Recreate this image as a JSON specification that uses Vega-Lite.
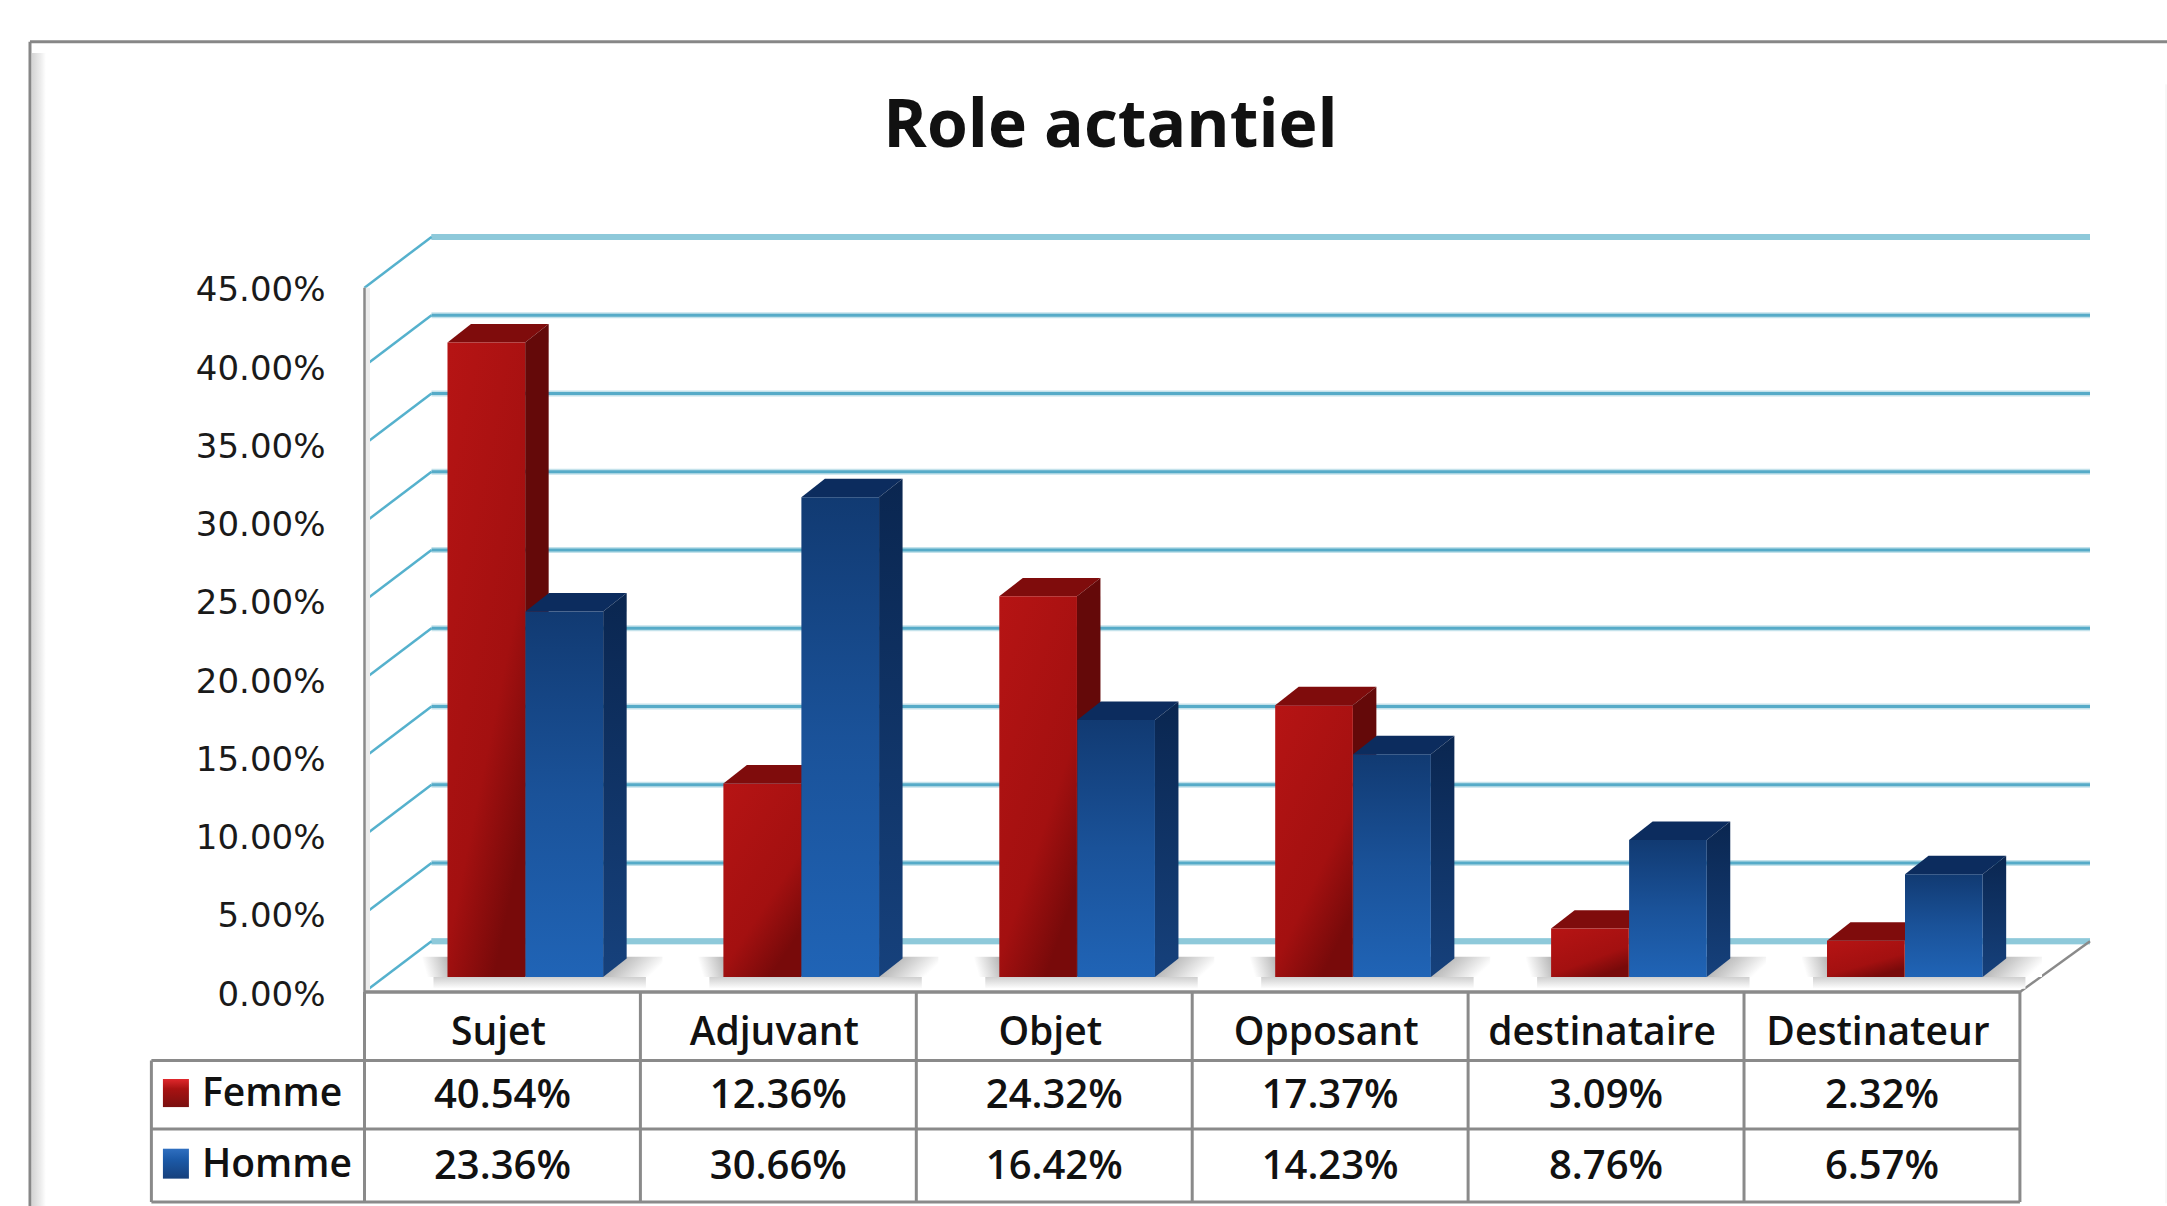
{
"$schema":"https://vega.github.io/schema/vega-lite/v6.json",
"width":2167,"height":1206,"padding":0,
"autosize":{"type":"fit","contains":"padding"},
"background":"white",
"config":{"view":{"stroke":null}},
"title":{"text":"Role actantiel","font":"Open Sans","fontSize":66,"fontWeight":700,"color":"#111","anchor":"middle","offset":-161,"dx":27},
"data":{"values":[{}]},
"datasets":{
"barres":[
{"role":"Sujet","col":0,"genre":"Femme","valeur":0.4054},
{"role":"Adjuvant","col":1,"genre":"Femme","valeur":0.1236},
{"role":"Objet","col":2,"genre":"Femme","valeur":0.2432},
{"role":"Opposant","col":3,"genre":"Femme","valeur":0.1737},
{"role":"destinataire","col":4,"genre":"Femme","valeur":0.0309},
{"role":"Destinateur","col":5,"genre":"Femme","valeur":0.0232},
{"role":"Sujet","col":0,"genre":"Homme","valeur":0.2336},
{"role":"Adjuvant","col":1,"genre":"Homme","valeur":0.3066},
{"role":"Objet","col":2,"genre":"Homme","valeur":0.1642},
{"role":"Opposant","col":3,"genre":"Homme","valeur":0.1423},
{"role":"destinataire","col":4,"genre":"Homme","valeur":0.0876},
{"role":"Destinateur","col":5,"genre":"Homme","valeur":0.0657}
],
"graduations":[{"v":0},{"v":0.05},{"v":0.1},{"v":0.15},{"v":0.2},{"v":0.25},{"v":0.3},{"v":0.35},{"v":0.4},{"v":0.45}],
"colonnes":[{"c":0},{"c":1},{"c":2},{"c":3},{"c":4},{"c":5},{"c":6}]
},
"resolve":{"scale":{"y":"independent"}},
"layer":[
{"layer":[
{"mark":{"type":"rect","color":{"gradient":"linear","x1":0,"y1":0,"x2":1,"y2":0,"stops":[{"offset":0,"color":"#d4d4d4"},{"offset":0.6,"color":"#ececec"},{"offset":1,"color":"#ffffff"}]}},
 "encoding":{"x":{"datum":-1.205,"type":"quantitative","scale":{"domain":[-1.3211,6.5331],"nice":false,"zero":false},"axis":null},"x2":{"datum":-1.1546},
 "y":{"datum":0.6,"type":"quantitative","scale":{"domain":[-0.13674,0.63387],"nice":false,"zero":false}},"y2":{"datum":-0.13674}}},
{"mark":{"type":"rule","color":"#878787","strokeWidth":3,"clip":true},"encoding":{"x":{"datum":-1.2124},"x2":{"datum":6.5331},"y":{"datum":0.6072}}},
{"mark":{"type":"rule","color":"#878787","strokeWidth":3,"clip":true},"encoding":{"x":{"datum":-1.2124},"y":{"datum":0.6072},"y2":{"datum":-0.13674}}},
{"mark":{"type":"rule","color":"#f0f0f0","strokeWidth":1},"encoding":{"x":{"datum":6.5295},"y":{"datum":0.58},"y2":{"datum":-0.135}}},
{"data":{"name":"graduations"},"transform":[{"calculate":"datum.v+0.0325","as":"vf"}],"layer":[
 {"mark":{"type":"rule","color":"#c4e2eb","strokeWidth":6},"encoding":{"x":{"datum":0.2428},"x2":{"datum":6.254},"y":{"field":"vf","type":"quantitative"}}},
 {"mark":{"type":"rule","color":"#56abc8","strokeWidth":3},"encoding":{"x":{"datum":0.2428},"x2":{"datum":6.254},"y":{"field":"vf","type":"quantitative"}}},
 {"transform":[{"filter":"datum.v==0||datum.v==0.45"}],"mark":{"type":"rule","color":"#8ec9da","strokeWidth":6},"encoding":{"x":{"datum":0.2428},"x2":{"datum":6.254},"y":{"field":"vf","type":"quantitative"}}},
 {"mark":{"type":"rule","color":"#55b1cd","strokeWidth":2.5},"encoding":{"x":{"datum":0},"x2":{"datum":0.2428},"y":{"field":"v","type":"quantitative"},"y2":{"field":"vf"}}},
 {"mark":{"type":"text","opacity":0},"encoding":{"x":{"datum":0},"y":{"field":"v","type":"quantitative","axis":{"values":[0,0.05,0.1,0.15,0.2,0.25,0.3,0.35,0.4,0.45],"format":".2%","title":null,"orient":"left","offset":-325,"grid":false,"domain":false,"ticks":false,"labelPadding":0,"labelFont":"DejaVu Sans","labelFontSize":34,"labelColor":"#1a1a1a","labelOffset":3,"labelBaseline":"middle"}},"text":{"value":""}}}
]},
{"mark":{"type":"rule","color":"#ececec","strokeWidth":5},"encoding":{"x":{"datum":0.011},"y":{"datum":0},"y2":{"datum":0.45}}},
{"mark":{"type":"rule","color":"#8a8a8a","strokeWidth":2.5},"encoding":{"x":{"datum":0},"y":{"datum":0},"y2":{"datum":0.45}}},
{"mark":{"type":"rule","color":"#8a8a8a","strokeWidth":2.5},"encoding":{"x":{"datum":6},"x2":{"datum":6.254},"y":{"datum":0},"y2":{"datum":0.0325}}},
{"data":{"name":"barres"},"transform":[
 {"filter":"datum.genre=='Femme'"},
 {"calculate":"datum.col+0.25","as":"a"},{"calculate":"datum.col+1.02","as":"b"},
 {"calculate":"datum.col+0.86","as":"c"},{"calculate":"datum.col+1.08","as":"d"},
 {"calculate":"datum.col+0.21","as":"e"},{"calculate":"datum.col+0.32","as":"f"}
],"layer":[
 {"mark":{"type":"rect","color":{"gradient":"linear","x1":0,"y1":0,"x2":0,"y2":1,"stops":[{"offset":0,"color":"#cfcfcf"},{"offset":1,"color":"#ffffff"}]}},"encoding":{"x":{"field":"a","type":"quantitative"},"x2":{"field":"b"},"y":{"datum":0.0096},"y2":{"datum":0.002}}},
 {"mark":{"type":"rect","color":{"gradient":"linear","x1":0,"y1":0,"x2":1,"y2":0.35,"stops":[{"offset":0,"color":"#9a9a9a"},{"offset":0.55,"color":"#cfcfcf"},{"offset":1,"color":"#ffffff"}]}},"encoding":{"x":{"field":"c","type":"quantitative"},"x2":{"field":"d"},"y":{"datum":0.0096},"y2":{"datum":0.0225}}},
 {"mark":{"type":"rect","color":{"gradient":"linear","x1":0,"y1":0.2,"x2":1,"y2":0,"stops":[{"offset":0,"color":"#ffffff"},{"offset":1,"color":"#a8a8a8"}]}},"encoding":{"x":{"field":"e","type":"quantitative"},"x2":{"field":"f"},"y":{"datum":0.0096},"y2":{"datum":0.0225}}}
]},
{"data":{"name":"barres"},"transform":[
 {"calculate":"datum.col+(datum.genre=='Femme'?0.3008:0.5835)","as":"x0"},
 {"calculate":"datum.x0+0.2815","as":"x1"},
 {"calculate":"datum.valeur+0.0096","as":"sommet"},
 {"calculate":"[0,1]","as":"t"},{"flatten":["t"]},
 {"calculate":"datum.x0+datum.t*0.0852","as":"hx0"},
 {"calculate":"datum.x1+datum.t*0.0852","as":"hx1"},
 {"calculate":"datum.sommet+datum.t*0.0118","as":"hy"},
 {"calculate":"0.0096+datum.t*0.0118","as":"by"},
 {"calculate":"datum.role+datum.genre","as":"cle"}
],"layer":[
 {"transform":[{"filter":"datum.genre=='Femme'"}],"mark":{"type":"area","orient":"horizontal","color":"#7f0c0c"},"encoding":{"y":{"field":"hy","type":"quantitative"},"x":{"field":"hx0","type":"quantitative"},"x2":{"field":"hx1"},"detail":{"field":"cle"}}},
 {"transform":[{"filter":"datum.genre=='Femme'"}],"mark":{"type":"area","orient":"vertical","color":"#640909"},"encoding":{"x":{"field":"hx1","type":"quantitative"},"y":{"field":"hy","type":"quantitative"},"y2":{"field":"by"},"detail":{"field":"cle"}}},
 {"transform":[{"filter":"datum.genre=='Femme'&&datum.t==0"}],"mark":{"type":"rect","color":{"gradient":"linear","x1":0,"y1":0,"x2":0.6,"y2":1,"stops":[{"offset":0,"color":"#b61414"},{"offset":0.7,"color":"#a31010"},{"offset":1,"color":"#780a0a"}]}},"encoding":{"x":{"field":"x0","type":"quantitative"},"x2":{"field":"x1"},"y":{"field":"sommet","type":"quantitative"},"y2":{"datum":0.0096}}},
 {"transform":[{"filter":"datum.genre=='Homme'"}],"mark":{"type":"area","orient":"horizontal","color":"#0c2c5e"},"encoding":{"y":{"field":"hy","type":"quantitative"},"x":{"field":"hx0","type":"quantitative"},"x2":{"field":"hx1"},"detail":{"field":"cle"}}},
 {"transform":[{"filter":"datum.genre=='Homme'"}],"mark":{"type":"area","orient":"vertical","color":{"gradient":"linear","x1":0,"y1":0,"x2":0,"y2":1,"stops":[{"offset":0,"color":"#0a2650"},{"offset":1,"color":"#16417c"}]}},"encoding":{"x":{"field":"hx1","type":"quantitative"},"y":{"field":"hy","type":"quantitative"},"y2":{"field":"by"},"detail":{"field":"cle"}}},
 {"transform":[{"filter":"datum.genre=='Homme'&&datum.t==0"}],"mark":{"type":"rect","color":{"gradient":"linear","x1":0,"y1":0,"x2":0,"y2":1,"stops":[{"offset":0,"color":"#113a72"},{"offset":0.5,"color":"#1a5299"},{"offset":1,"color":"#2064b6"}]}},"encoding":{"x":{"field":"x0","type":"quantitative"},"x2":{"field":"x1"},"y":{"field":"sommet","type":"quantitative"},"y2":{"datum":0.0096}}}
]}
]},
{"layer":[
{"data":{"name":"colonnes"},"mark":{"type":"rule","color":"#8a8a8a","strokeWidth":3},"encoding":{"x":{"field":"c","type":"quantitative"},"y":{"datum":0,"type":"quantitative","scale":{"domain":[0,1,2,3],"range":[992,1060.5,1129,1202],"nice":false,"zero":false},"axis":null},"y2":{"datum":3}}},
{"mark":{"type":"rule","color":"#8a8a8a","strokeWidth":3},"encoding":{"x":{"datum":-0.7724},"y":{"datum":1,"type":"quantitative"},"y2":{"datum":3}}},
{"mark":{"type":"rule","color":"#8a8a8a","strokeWidth":3.5},"encoding":{"x":{"datum":0},"x2":{"datum":6},"y":{"datum":0,"type":"quantitative"}}},
{"mark":{"type":"rule","color":"#8a8a8a","strokeWidth":3},"encoding":{"x":{"datum":-0.7724},"x2":{"datum":6},"y":{"datum":1,"type":"quantitative"}}},
{"mark":{"type":"rule","color":"#8a8a8a","strokeWidth":3},"encoding":{"x":{"datum":-0.7724},"x2":{"datum":6},"y":{"datum":2,"type":"quantitative"}}},
{"mark":{"type":"rule","color":"#8a8a8a","strokeWidth":3},"encoding":{"x":{"datum":-0.7724},"x2":{"datum":6},"y":{"datum":3,"type":"quantitative"}}},
{"data":{"name":"barres"},"transform":[
 {"calculate":"datum.col+0.5","as":"xc"},
 {"calculate":"datum.genre=='Femme'?1.5:2.5","as":"rang"},
 {"calculate":"datum.genre=='Femme'?1.27:2.27","as":"ch"},
 {"calculate":"datum.genre=='Femme'?1.68:2.68","as":"cb"}
],"layer":[
 {"transform":[{"filter":"datum.genre=='Femme'"}],"mark":{"type":"text","font":"Open Sans","fontWeight":600,"fontSize":39,"color":"#111","dx":-4,"dy":7},"encoding":{"x":{"field":"xc","type":"quantitative"},"y":{"datum":0.5,"type":"quantitative"},"text":{"field":"role"}}},
 {"mark":{"type":"text","font":"Open Sans","fontWeight":600,"fontSize":40,"color":"#111","dy":1},"encoding":{"x":{"field":"xc","type":"quantitative"},"y":{"field":"rang","type":"quantitative"},"text":{"field":"valeur","type":"quantitative","format":".2%"}}},
 {"transform":[{"filter":"datum.col==0"}],"mark":{"type":"text","font":"Open Sans","fontWeight":600,"fontSize":39,"color":"#111","align":"left","dy":-1},"encoding":{"x":{"datum":-0.589},"y":{"field":"rang","type":"quantitative"},"text":{"field":"genre"}}},
 {"transform":[{"filter":"datum.col==0&&datum.genre=='Femme'"}],"mark":{"type":"rect","color":{"gradient":"linear","x1":0,"y1":0,"x2":0,"y2":1,"stops":[{"offset":0,"color":"#e0282c"},{"offset":0.35,"color":"#a81212"},{"offset":1,"color":"#7a1010"}]}},"encoding":{"x":{"datum":-0.7306},"x2":{"datum":-0.6364},"y":{"field":"ch","type":"quantitative"},"y2":{"field":"cb"}}},
 {"transform":[{"filter":"datum.col==0&&datum.genre=='Homme'"}],"mark":{"type":"rect","color":{"gradient":"linear","x1":0,"y1":0,"x2":0,"y2":1,"stops":[{"offset":0,"color":"#2f6fc0"},{"offset":0.35,"color":"#1c5aa8"},{"offset":1,"color":"#16407c"}]}},"encoding":{"x":{"datum":-0.7306},"x2":{"datum":-0.6364},"y":{"field":"ch","type":"quantitative"},"y2":{"field":"cb"}}}
]}
]}
]
}
